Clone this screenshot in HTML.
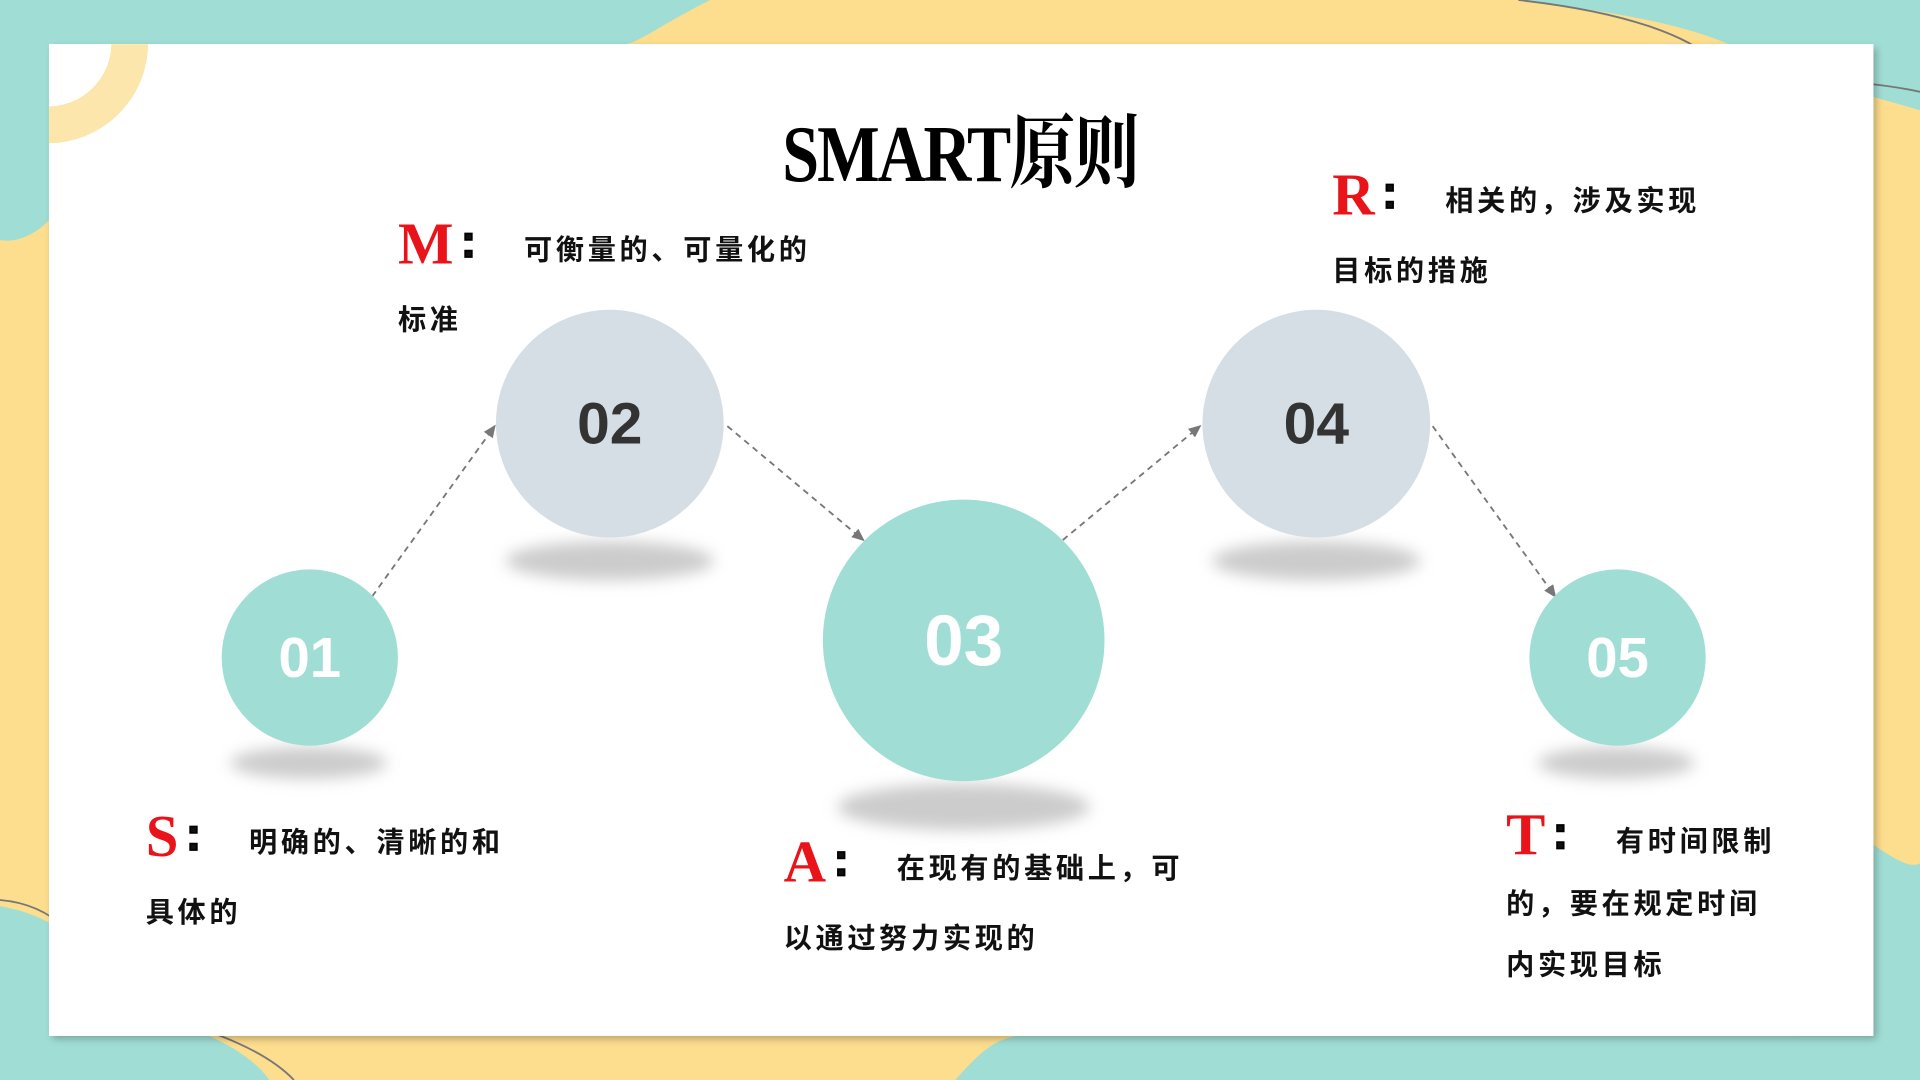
<!DOCTYPE html>
<html><head><meta charset="utf-8"><style>
html,body{margin:0;padding:0;width:1920px;height:1080px;overflow:hidden;background:#fddd8e}
#s{position:absolute;left:0;top:0;width:1568px;height:882px;transform:scale(1.22449);transform-origin:0 0;font-family:"Liberation Sans","Noto Sans CJK SC",sans-serif}
.card{position:absolute;left:40px;top:36px;width:1490px;height:810px;background:#fff;box-shadow:3px 3px 6px rgba(0,0,0,.25);overflow:hidden}
.c{position:absolute;border-radius:50%;display:flex;align-items:center;justify-content:center;font-weight:bold;font-family:"Liberation Sans",sans-serif}
.t{background:#a0ded5;color:#fff}
.g{background:#d6dee5;color:#333}
.sh{position:absolute;border-radius:50%;background:#ccc;filter:blur(6px)}
.txt{position:absolute;font-family:"Noto Sans CJK SC",sans-serif;font-weight:bold;font-size:23px;letter-spacing:3px;line-height:57px;color:#111}
.L{color:#e8141a;font-size:48px;font-family:"Liberation Serif",serif;vertical-align:-3px;letter-spacing:0}
.k{font-family:"Liberation Sans",sans-serif;font-weight:900;font-size:38px;margin-left:6px;margin-right:36px;vertical-align:2px;-webkit-text-stroke:1.5px #000}
</style></head><body><div id="s">
<svg width="1568" height="882" style="position:absolute;left:0;top:0">
<path d="M0 0 H580 C540 20 520 36 510 36 H0Z" fill="#a0ded5"/>
<path d="M0 0 H40 V180 C25 195 10 198 0 196Z" fill="#a0ded5"/>
<path d="M1240 0 H1568 V90 C1500 70 1450 60 1420 40 C1380 20 1320 10 1240 0Z" fill="#a0ded5"/>
<path d="M1240 0 C1330 10 1380 30 1400 50 C1430 70 1500 60 1568 75" stroke="#777" stroke-width="1.5" fill="none"/>
<path d="M1530 690 C1545 700 1560 710 1568 705 V882 H1450 Z" fill="#a0ded5"/>
<path d="M0 740 C60 750 80 790 90 810 C110 830 190 840 220 882 H0Z" fill="#a0ded5"/>
<path d="M0 735 C60 740 75 790 90 810 C110 830 200 840 240 882" stroke="#777" stroke-width="1.5" fill="none"/>
<path d="M780 882 C800 860 810 850 830 846 H1568 V882Z" fill="#a0ded5"/>
</svg>
<div class="card"><svg width="200" height="200" style="position:absolute;left:0;top:0"><circle cx="-1" cy="-1" r="67" fill="none" stroke="#fde6ab" stroke-width="30"/></svg></div>
<svg width="1568" height="882" style="position:absolute;left:0;top:0">
<defs><marker id="a" markerWidth="8" markerHeight="8" refX="6" refY="4" orient="auto"><path d="M0 1 L7 4 L0 7Z" fill="#777"/></marker></defs>
<g stroke="#777" stroke-width="1.5" stroke-dasharray="5 4" fill="none" marker-end="url(#a)">
<line x1="304" y1="487" x2="404" y2="348"/>
<line x1="594" y1="348" x2="705" y2="441"/>
<line x1="868" y1="441" x2="980" y2="348"/>
<line x1="1170" y1="348" x2="1270" y2="487"/>
</g></svg>
<div class="sh" style="left:188px;top:610px;width:128px;height:26px"></div>
<div class="sh" style="left:413px;top:442px;width:170px;height:32px"></div>
<div class="sh" style="left:684px;top:640px;width:206px;height:38px"></div>
<div class="sh" style="left:990px;top:442px;width:170px;height:32px"></div>
<div class="sh" style="left:1256px;top:610px;width:128px;height:26px"></div>
<div class="c t" style="left:181px;top:465px;width:144px;height:144px;font-size:46px">01</div>
<div class="c g" style="left:405px;top:253px;width:186px;height:186px;font-size:48px">02</div>
<div class="c t" style="left:672px;top:408px;width:230px;height:230px;font-size:58px">03</div>
<div class="c g" style="left:982px;top:253px;width:186px;height:186px;font-size:48px">04</div>
<div class="c t" style="left:1249px;top:465px;width:144px;height:144px;font-size:46px">05</div>
<div style="position:absolute;left:0;width:1568px;text-align:center;top:72px"><span style="display:inline-block;transform:scaleX(0.82);font-family:'Liberation Serif','Noto Serif CJK SC',serif;font-weight:bold;font-size:66px;color:#000;letter-spacing:-2px">SMART原则</span></div>
<div class="txt" style="left:325px;top:170px;width:400px"><span class="L">M</span><span class="k">:</span>可衡量的、可量化的<br>标准</div>
<div class="txt" style="left:1088px;top:130px;width:340px"><span class="L">R</span><span class="k">:</span>相关的，涉及实现<br>目标的措施</div>
<div class="txt" style="left:119px;top:654px;width:340px"><span class="L">S</span><span class="k">:</span>明确的、清晰的和<br>具体的</div>
<div class="txt" style="left:640px;top:675px;width:370px"><span class="L">A</span><span class="k">:</span>在现有的基础上，可<br>以通过努力实现的</div>
<div class="txt" style="left:1230px;top:654px;width:240px;line-height:50px"><span class="L" style="line-height:57px">T</span><span class="k">:</span>有时间限制<br>的，要在规定时间<br>内实现目标</div>
</div></body></html>
